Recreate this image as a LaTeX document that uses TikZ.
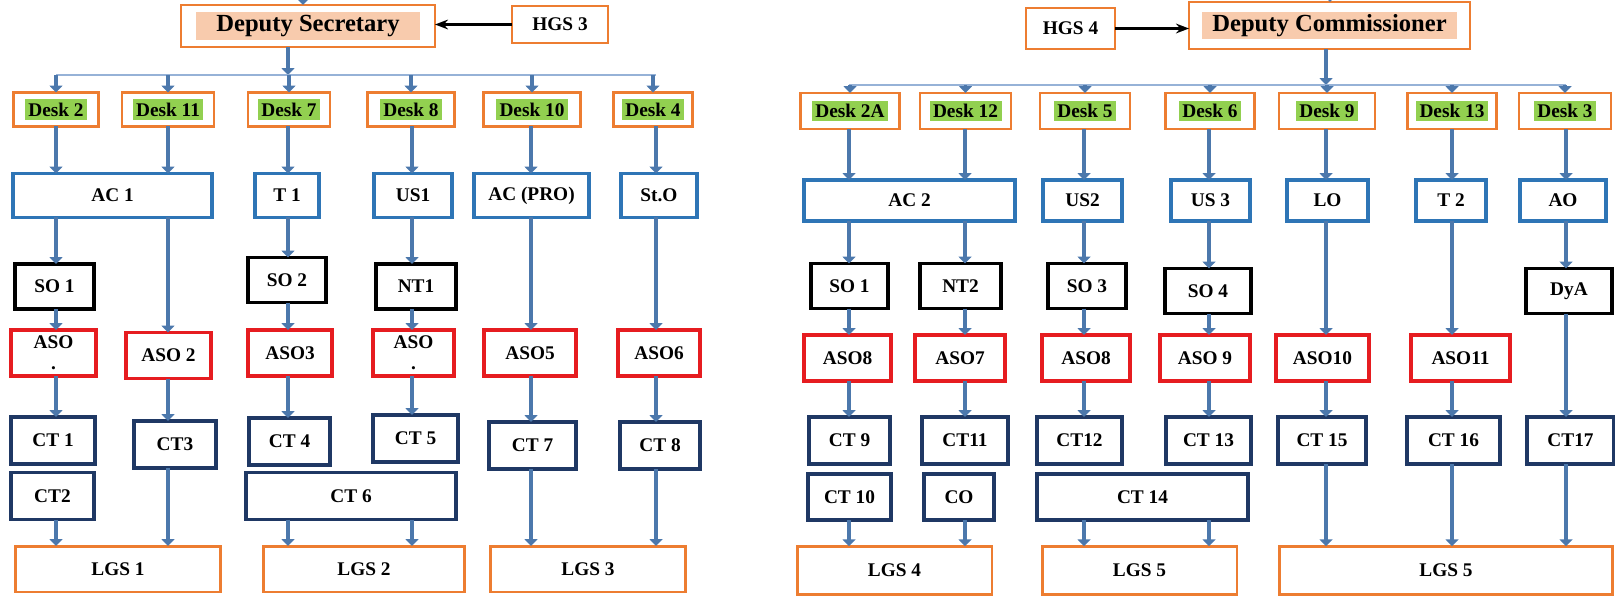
\documentclass[tikz,border=0pt]{standalone}
\usepackage{fontspec}
\setmainfont{Liberation Serif}
\usetikzlibrary{arrows.meta}
\definecolor{orgline}{RGB}{237,125,49}
\definecolor{headpeach}{RGB}{248,203,173}
\definecolor{deskgreen}{RGB}{146,208,80}
\definecolor{blueline}{RGB}{46,117,182}
\definecolor{redline}{RGB}{230,28,32}
\definecolor{navyline}{RGB}{31,56,100}
\definecolor{arrowblue}{RGB}{76,120,172}
\definecolor{busblue}{RGB}{150,178,215}
\newcommand{\desklbl}[1]{{\setlength{\fboxsep}{2pt}\colorbox{deskgreen}{#1}}}
\tikzset{
  orgnode/.style={inner sep=0pt, outer sep=0pt, fill=white, align=center,
                  font=\fontsize{11}{12}\selectfont\bfseries},
  headbox/.style={orgnode, draw=orgline, line width=1.1pt},
  headlbl/.style={fill=headpeach, inner sep=0pt, minimum height=0.56cm,
                  font=\fontsize{14}{16}\selectfont\bfseries},
  deskbox/.style={orgnode, draw=orgline, line width=1.4pt, minimum height=0.68cm},
  bluebox/.style={orgnode, draw=blueline, line width=1.8pt, minimum height=0.88cm},
  blkbox/.style={orgnode, draw=black, line width=1.8pt, minimum height=0.9cm},
  redbox/.style={orgnode, draw=redline, line width=1.8pt, minimum height=0.92cm},
  ctbox/.style={orgnode, draw=navyline, line width=1.8pt, minimum height=0.94cm},
  lgsbox/.style={orgnode, draw=orgline, line width=1.7pt, minimum height=0.92cm},
  flowarr/.style={-{Triangle[length=1.4mm, width=2.6mm]}, arrowblue, line width=2.2pt},
  busline/.style={busblue, line width=1.2pt},
  hgsarr/.style={-{Stealth[length=2.6mm]}, black, line width=1.4pt},
}
\begin{document}
\begin{tikzpicture}[x=0.02cm, y=-0.02cm]
  \useasboundingbox (0,0) rectangle (1615,595);
  % columns of the two charts
  \coordinate (colA) at (56,0);   \coordinate (colB) at (168,0);  \coordinate (colC) at (288,0);
  \coordinate (colD) at (412,0);  \coordinate (colE) at (531,0);  \coordinate (colF) at (656,0);
  \coordinate (colP) at (849,0);  \coordinate (colQ) at (965,0);  \coordinate (colR) at (1084,0);
  \coordinate (colS) at (1209,0); \coordinate (colT) at (1326,0); \coordinate (colU) at (1452,0);
  \coordinate (colV) at (1566,0);

  % ---- left chart
  \node[headbox, minimum width=5.08cm, minimum height=0.84cm] (depsec) at (308,26) {};
  \node[headlbl, minimum width=4.5cm] (depseclbl) at (depsec) {Deputy Secretary};
  \node[headbox, minimum width=1.92cm, minimum height=0.74cm] (hgsthree) at (560,24.5) {HGS 3};
  \coordinate (dstop) at (303,-15);
  \coordinate (busl) at (56,75); \coordinate (busr) at (656,75); \coordinate (dsdrop) at (288,75);

  \node[deskbox, minimum width=1.70cm] (desktwo) at (56,109.5) {\desklbl{Desk 2}};
  \node[deskbox, minimum width=1.84cm] (deskeleven) at (168,109.5) {\desklbl{Desk 11}};
  \node[deskbox, minimum width=1.64cm] (deskseven) at (289,109.5) {\desklbl{Desk 7}};
  \node[deskbox, minimum width=1.74cm] (deskeight) at (411,109.5) {\desklbl{Desk 8}};
  \node[deskbox, minimum width=1.94cm] (deskten) at (532,109.5) {\desklbl{Desk 10}};
  \node[deskbox, minimum width=1.58cm] (deskfour) at (653,109.5) {\desklbl{Desk 4}};

  \node[bluebox, minimum width=3.98cm] (acone) at (112.5,195.5) {AC 1};
  \node[bluebox, minimum width=1.28cm] (tone) at (287,195.5) {T 1};
  \node[bluebox, minimum width=1.56cm] (usone) at (413,195.5) {US1};
  \node[bluebox, minimum width=2.30cm] (acpro) at (531.5,195.5) {AC (PRO)};
  \node[bluebox, minimum width=1.52cm] (sto) at (659,195.5) {St.O};

  \node[blkbox, minimum width=1.58cm] (soone) at (54.5,286.5) {SO 1};
  \node[blkbox, minimum width=1.56cm] (sotwo) at (287,280) {SO 2};
  \node[blkbox, minimum width=1.60cm] (ntone) at (416,286.5) {NT1};

  \node[redbox, minimum width=1.70cm] (asoa) at (53.5,353) {ASO\\.};
  \node[redbox, minimum width=1.70cm] (asotwo) at (168.5,355.5) {ASO 2};
  \node[redbox, minimum width=1.68cm] (asothree) at (290,353) {ASO3};
  \node[redbox, minimum width=1.62cm] (asob) at (413.5,353) {ASO\\.};
  \node[redbox, minimum width=1.84cm] (asofive) at (530,353) {ASO5};
  \node[redbox, minimum width=1.64cm] (asosix) at (659,353) {ASO6};

  \node[ctbox, minimum width=1.68cm] (ctone) at (53,440.5) {CT 1};
  \node[ctbox, minimum width=1.64cm] (ctthree) at (175,444.5) {CT3};
  \node[ctbox, minimum width=1.62cm] (ctfour) at (289.5,441.5) {CT 4};
  \node[ctbox, minimum width=1.70cm] (ctfive) at (415.5,438.5) {CT 5};
  \node[ctbox, minimum width=1.74cm] (ctseven) at (532.5,445.5) {CT 7};
  \node[ctbox, minimum width=1.60cm] (cteight) at (660,445.5) {CT 8};
  \node[ctbox, minimum width=1.66cm] (cttwo) at (52.5,496) {CT2};
  \node[ctbox, minimum width=4.20cm] (ctsix) at (351,496) {CT 6};

  \node[lgsbox, minimum width=4.12cm] (lgsone) at (118,569) {LGS 1};
  \node[lgsbox, minimum width=4.04cm] (lgstwo) at (364,569) {LGS 2};
  \node[lgsbox, minimum width=3.92cm] (lgsthree) at (588,569) {LGS 3};

  \draw[flowarr] (dstop) -- (dstop |- depsec.north);
  \draw[hgsarr] (hgsthree.west) -- (hgsthree.west -| depsec.east);
  \draw[flowarr] (depsec.south -| dsdrop) -- (dsdrop);
  \draw[busline] (busl) -- (busr);
  \foreach \d in {desktwo,deskeleven,deskseven,deskeight,deskten,deskfour}
    \draw[flowarr] (\d.north |- busl) -- (\d.north);

  \draw[flowarr] (desktwo.south -| colA) -- (acone.north -| colA);
  \draw[flowarr] (acone.south -| colA) -- (soone.north -| colA);
  \draw[flowarr] (soone.south -| colA) -- (asoa.north -| colA);
  \draw[flowarr] (asoa.south -| colA) -- (ctone.north -| colA);
  \draw[flowarr] (cttwo.south -| colA) -- (lgsone.north -| colA);
  \draw[flowarr] (deskeleven.south -| colB) -- (acone.north -| colB);
  \draw[flowarr] (acone.south -| colB) -- (asotwo.north -| colB);
  \draw[flowarr] (asotwo.south -| colB) -- (ctthree.north -| colB);
  \draw[flowarr] (ctthree.south -| colB) -- (lgsone.north -| colB);
  \draw[flowarr] (deskseven.south -| colC) -- (tone.north -| colC);
  \draw[flowarr] (tone.south -| colC) -- (sotwo.north -| colC);
  \draw[flowarr] (sotwo.south -| colC) -- (asothree.north -| colC);
  \draw[flowarr] (asothree.south -| colC) -- (ctfour.north -| colC);
  \draw[flowarr] (ctsix.south -| colC) -- (lgstwo.north -| colC);
  \draw[flowarr] (deskeight.south -| colD) -- (usone.north -| colD);
  \draw[flowarr] (usone.south -| colD) -- (ntone.north -| colD);
  \draw[flowarr] (ntone.south -| colD) -- (asob.north -| colD);
  \draw[flowarr] (asob.south -| colD) -- (ctfive.north -| colD);
  \draw[flowarr] (ctsix.south -| colD) -- (lgstwo.north -| colD);
  \draw[flowarr] (deskten.south -| colE) -- (acpro.north -| colE);
  \draw[flowarr] (acpro.south -| colE) -- (asofive.north -| colE);
  \draw[flowarr] (asofive.south -| colE) -- (ctseven.north -| colE);
  \draw[flowarr] (ctseven.south -| colE) -- (lgsthree.north -| colE);
  \draw[flowarr] (deskfour.south -| colF) -- (sto.north -| colF);
  \draw[flowarr] (sto.south -| colF) -- (asosix.north -| colF);
  \draw[flowarr] (asosix.south -| colF) -- (cteight.north -| colF);
  \draw[flowarr] (cteight.south -| colF) -- (lgsthree.north -| colF);

  % ---- right chart
  \node[headbox, minimum width=5.62cm, minimum height=0.94cm] (depcom) at (1329.5,25.5) {};
  \node[headlbl, minimum width=5.1cm] (depcomlbl) at (depcom) {Deputy Commissioner};
  \node[headbox, minimum width=1.78cm, minimum height=0.82cm] (hgsfour) at (1070.5,28.5) {HGS 4};
  \coordinate (dctop) at (1330,-15);
  \coordinate (buspl) at (849,85); \coordinate (buspr) at (1566,85); \coordinate (dcdrop) at (1326,85);

  \node[deskbox, minimum width=1.98cm, minimum height=0.72cm] (desktwoa) at (850,111) {\desklbl{Desk 2A}};
  \node[deskbox, minimum width=1.82cm, minimum height=0.72cm] (desktwelve) at (965.5,111) {\desklbl{Desk 12}};
  \node[deskbox, minimum width=1.80cm, minimum height=0.72cm] (deskfive) at (1085,111) {\desklbl{Desk 5}};
  \node[deskbox, minimum width=1.78cm, minimum height=0.72cm] (desksix) at (1210,111) {\desklbl{Desk 6}};
  \node[deskbox, minimum width=1.92cm, minimum height=0.72cm] (desknine) at (1327,111) {\desklbl{Desk 9}};
  \node[deskbox, minimum width=1.78cm, minimum height=0.72cm] (deskthirteen) at (1452,111) {\desklbl{Desk 13}};
  \node[deskbox, minimum width=1.84cm, minimum height=0.72cm] (deskthree) at (1565,111) {\desklbl{Desk 3}};

  \node[bluebox, minimum width=4.22cm, minimum height=0.82cm] (actwo) at (909.5,200.5) {AC 2};
  \node[bluebox, minimum width=1.58cm, minimum height=0.82cm] (ustwo) at (1082.5,200.5) {US2};
  \node[bluebox, minimum width=1.58cm, minimum height=0.82cm] (usthree) at (1210.5,200.5) {US 3};
  \node[bluebox, minimum width=1.62cm, minimum height=0.82cm] (lo) at (1327.5,200.5) {LO};
  \node[bluebox, minimum width=1.40cm, minimum height=0.82cm] (ttwo) at (1451,200.5) {T 2};
  \node[bluebox, minimum width=1.72cm, minimum height=0.82cm] (ao) at (1563,200.5) {AO};

  \node[blkbox, minimum width=1.54cm] (sooneb) at (849.5,286) {SO 1};
  \node[blkbox, minimum width=1.62cm] (nttwo) at (960.5,286) {NT2};
  \node[blkbox, minimum width=1.56cm] (sothree) at (1087,286) {SO 3};
  \node[blkbox, minimum width=1.72cm] (sofour) at (1208,291) {SO 4};
  \node[blkbox, minimum width=1.72cm] (dya) at (1569,291) {DyA};

  \node[redbox, minimum width=1.74cm] (asoeight) at (847.5,358) {ASO8};
  \node[redbox, minimum width=1.80cm] (asoseven) at (960,358) {ASO7};
  \node[redbox, minimum width=1.76cm] (asoeightb) at (1086,358) {ASO8};
  \node[redbox, minimum width=1.80cm] (asonine) at (1205,358) {ASO 9};
  \node[redbox, minimum width=1.86cm] (asoten) at (1322.5,358) {ASO10};
  \node[redbox, minimum width=1.98cm] (asoeleven) at (1460.5,358) {ASO11};

  \node[ctbox, minimum width=1.62cm] (ctnine) at (849.5,440.5) {CT 9};
  \node[ctbox, minimum width=1.72cm] (cteleven) at (965,440.5) {CT11};
  \node[ctbox, minimum width=1.70cm] (cttwelve) at (1079.5,440.5) {CT12};
  \node[ctbox, minimum width=1.70cm] (ctthirteen) at (1208.5,440.5) {CT 13};
  \node[ctbox, minimum width=1.76cm] (ctfifteen) at (1322,440.5) {CT 15};
  \node[ctbox, minimum width=1.86cm] (ctsixteen) at (1453.5,440.5) {CT 16};
  \node[ctbox, minimum width=1.74cm] (ctseventeen) at (1570.5,440.5) {CT17};
  \node[ctbox, minimum width=1.66cm, minimum height=0.92cm] (ctten) at (849.5,497) {CT 10};
  \node[ctbox, minimum width=1.40cm, minimum height=0.92cm] (co) at (959,497) {CO};
  \node[ctbox, minimum width=4.22cm, minimum height=0.92cm] (ctfourteen) at (1142.5,497) {CT 14};

  \node[lgsbox, minimum width=3.90cm, minimum height=0.97cm] (lgsfour) at (894.5,570.5) {LGS 4};
  \node[lgsbox, minimum width=3.90cm, minimum height=0.97cm] (lgsfive) at (1139.5,570.5) {LGS 5};
  \node[lgsbox, minimum width=6.68cm, minimum height=0.97cm] (lgsfiveb) at (1446,570.5) {LGS 5};

  \draw[flowarr] (dctop) -- (dctop |- depcom.north);
  \draw[hgsarr] (hgsfour.east) -- (hgsfour.east -| depcom.west);
  \draw[flowarr] (depcom.south -| dcdrop) -- (dcdrop);
  \draw[busline] (buspl) -- (buspr);
  \foreach \d in {desktwoa,desktwelve,deskfive,desksix,desknine,deskthirteen,deskthree}
    \draw[flowarr] (\d.north |- buspl) -- (\d.north);

  \draw[flowarr] (desktwoa.south -| colP) -- (actwo.north -| colP);
  \draw[flowarr] (actwo.south -| colP) -- (sooneb.north -| colP);
  \draw[flowarr] (sooneb.south -| colP) -- (asoeight.north -| colP);
  \draw[flowarr] (asoeight.south -| colP) -- (ctnine.north -| colP);
  \draw[flowarr] (ctten.south -| colP) -- (lgsfour.north -| colP);
  \draw[flowarr] (desktwelve.south -| colQ) -- (actwo.north -| colQ);
  \draw[flowarr] (actwo.south -| colQ) -- (nttwo.north -| colQ);
  \draw[flowarr] (nttwo.south -| colQ) -- (asoseven.north -| colQ);
  \draw[flowarr] (asoseven.south -| colQ) -- (cteleven.north -| colQ);
  \draw[flowarr] (co.south -| colQ) -- (lgsfour.north -| colQ);
  \draw[flowarr] (deskfive.south -| colR) -- (ustwo.north -| colR);
  \draw[flowarr] (ustwo.south -| colR) -- (sothree.north -| colR);
  \draw[flowarr] (sothree.south -| colR) -- (asoeightb.north -| colR);
  \draw[flowarr] (asoeightb.south -| colR) -- (cttwelve.north -| colR);
  \draw[flowarr] (ctfourteen.south -| colR) -- (lgsfive.north -| colR);
  \draw[flowarr] (desksix.south -| colS) -- (usthree.north -| colS);
  \draw[flowarr] (usthree.south -| colS) -- (sofour.north -| colS);
  \draw[flowarr] (sofour.south -| colS) -- (asonine.north -| colS);
  \draw[flowarr] (asonine.south -| colS) -- (ctthirteen.north -| colS);
  \draw[flowarr] (ctfourteen.south -| colS) -- (lgsfive.north -| colS);
  \draw[flowarr] (desknine.south -| colT) -- (lo.north -| colT);
  \draw[flowarr] (lo.south -| colT) -- (asoten.north -| colT);
  \draw[flowarr] (asoten.south -| colT) -- (ctfifteen.north -| colT);
  \draw[flowarr] (ctfifteen.south -| colT) -- (lgsfiveb.north -| colT);
  \draw[flowarr] (deskthirteen.south -| colU) -- (ttwo.north -| colU);
  \draw[flowarr] (ttwo.south -| colU) -- (asoeleven.north -| colU);
  \draw[flowarr] (asoeleven.south -| colU) -- (ctsixteen.north -| colU);
  \draw[flowarr] (ctsixteen.south -| colU) -- (lgsfiveb.north -| colU);
  \draw[flowarr] (deskthree.south -| colV) -- (ao.north -| colV);
  \draw[flowarr] (ao.south -| colV) -- (dya.north -| colV);
  \draw[flowarr] (dya.south -| colV) -- (ctseventeen.north -| colV);
  \draw[flowarr] (ctseventeen.south -| colV) -- (lgsfiveb.north -| colV);
\end{tikzpicture}
\end{document}
